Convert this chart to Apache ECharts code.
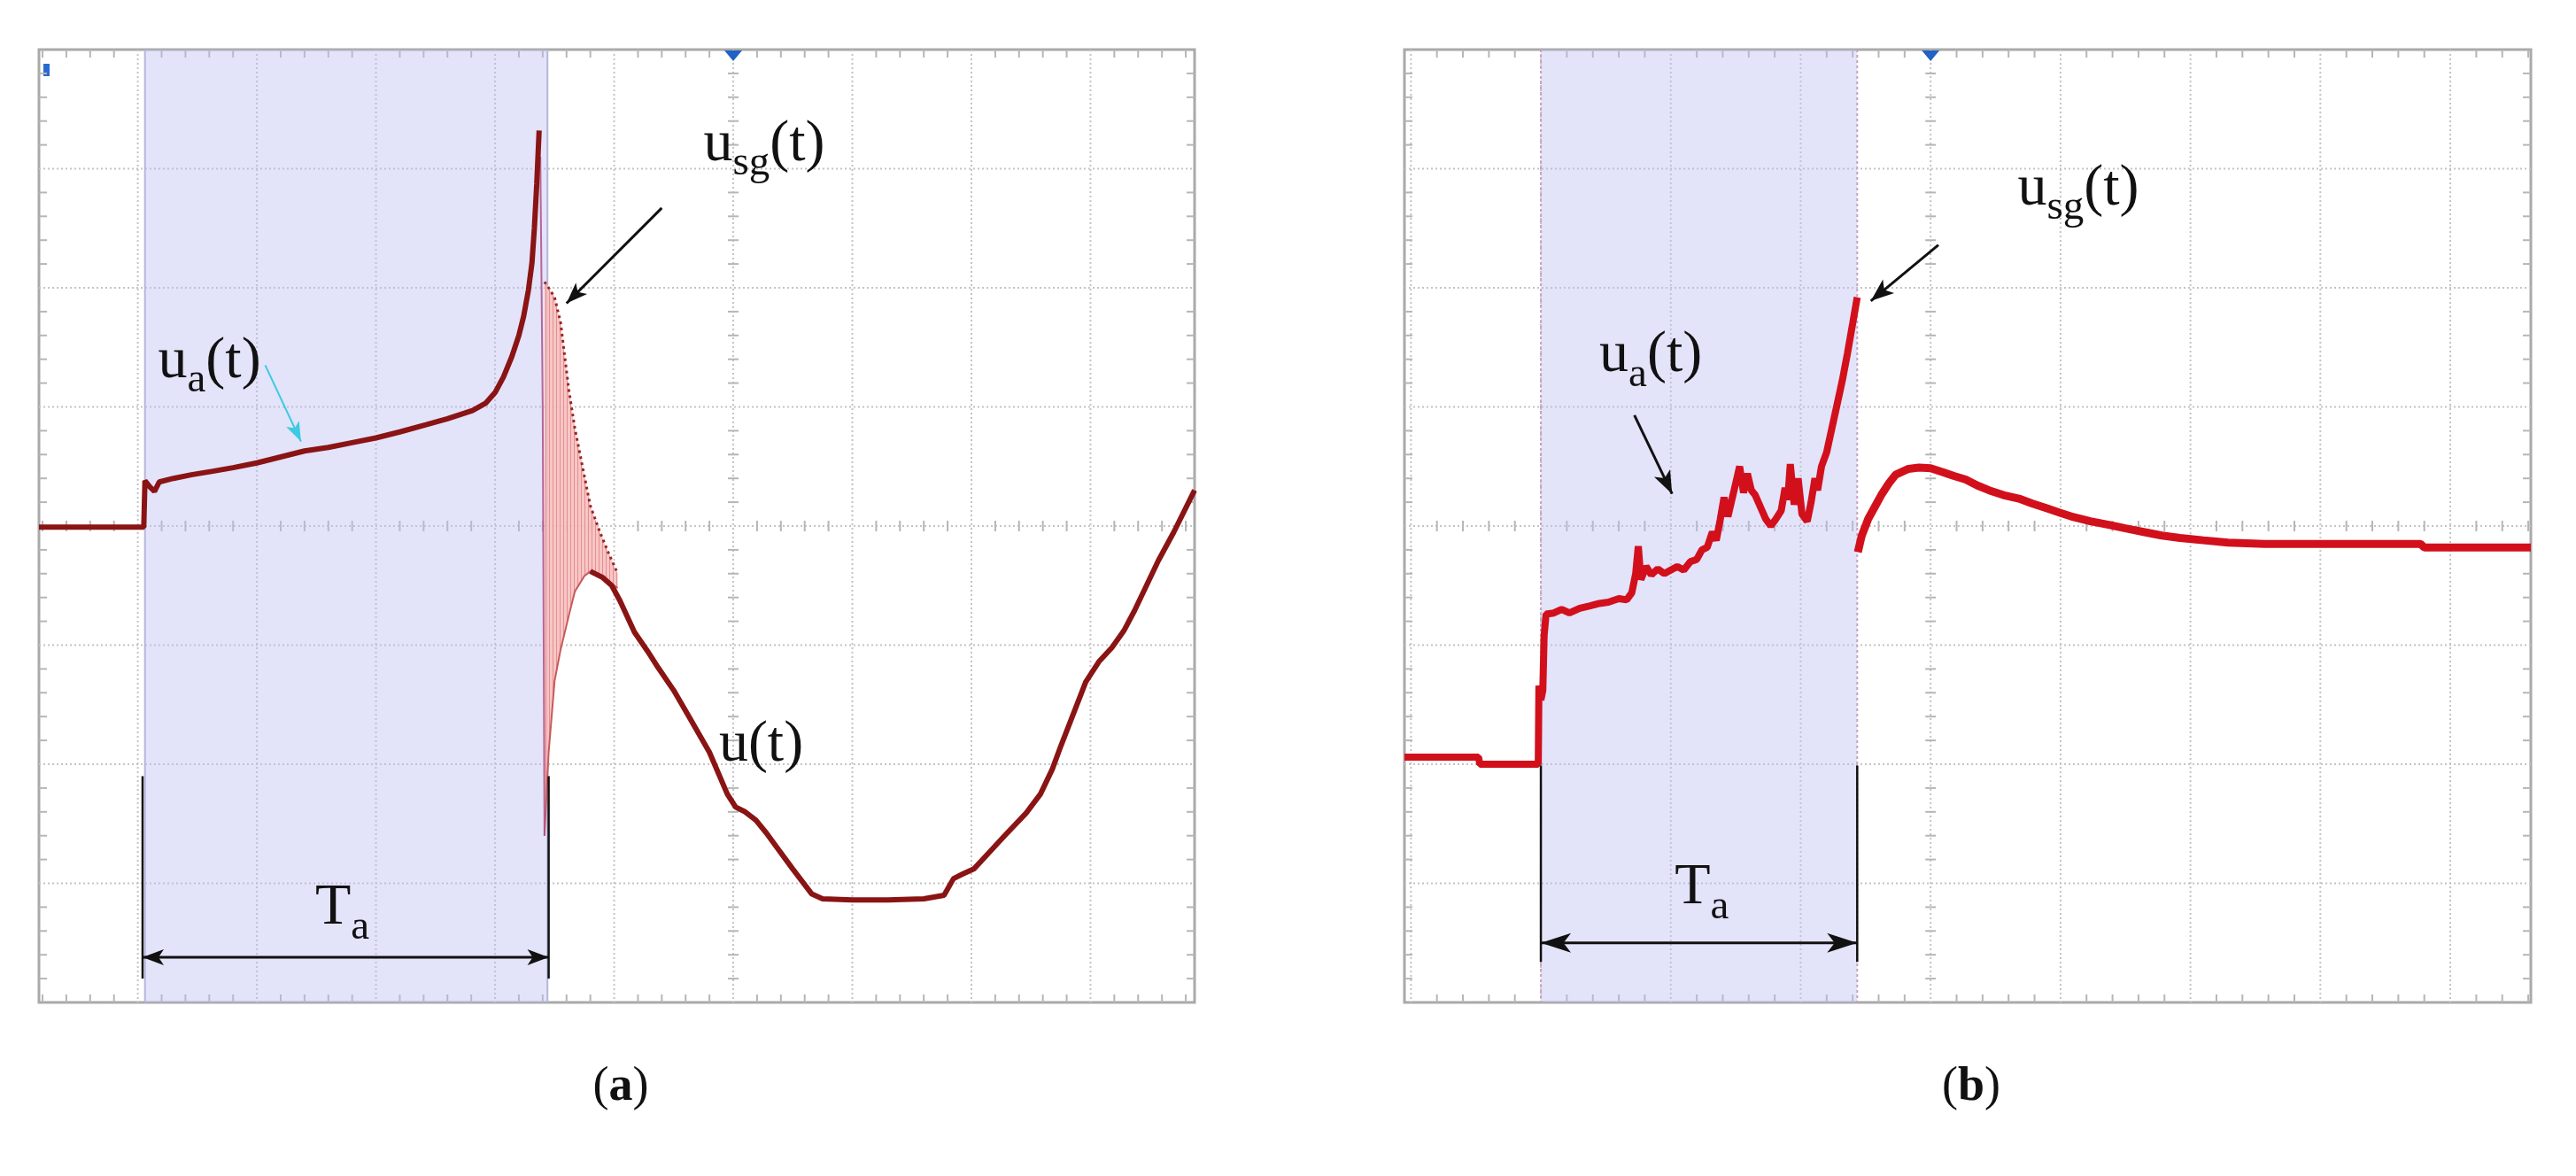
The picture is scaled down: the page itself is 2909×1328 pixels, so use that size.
<!DOCTYPE html>
<html>
<head>
<meta charset="utf-8">
<style>
  html, body { margin: 0; padding: 0; background: #fff; }
  #chart { width: 2909px; height: 1328px; }
</style>
<script src="https://cdn.jsdelivr.net/npm/echarts@6/dist/echarts.min.js"></script>
</head>
<body>
<div id="chart"></div>
<script>
// all positions are in scope divisions, x = 0 on the trigger line, y = 0 on the centre line
const FONT = 'Liberation Serif, Times New Roman, serif';

const gridXA = [-5, -4, -3, -2, -1, 0, 1, 2, 3];
const gridXB = [-4, -3, -2, -1, 0, 1, 2, 3, 4];
const gridY = [-3, -2, -1, 0, 1, 2, 3];

// ---- panel (a) ----
const shadeA = [-4.94, -1.56];
const uaA = [
  [-5.83, -0.01], [-4.95, -0.01], [-4.94, 0.38], [-4.90, 0.33], [-4.86, 0.29], [-4.82, 0.37],
  [-4.70, 0.40], [-4.55, 0.43], [-4.37, 0.46], [-4.20, 0.49], [-4.00, 0.53], [-3.80, 0.58],
  [-3.60, 0.63], [-3.40, 0.66], [-3.20, 0.70], [-3.00, 0.74], [-2.80, 0.79], [-2.58, 0.85],
  [-2.40, 0.90], [-2.19, 0.97], [-2.08, 1.03], [-2.00, 1.12], [-1.93, 1.25], [-1.86, 1.42],
  [-1.80, 1.60], [-1.76, 1.76], [-1.72, 1.98], [-1.69, 2.21], [-1.67, 2.50], [-1.65, 2.87],
  [-1.63, 3.32]
];
const dropA = [[-1.62, 3.10], [-1.60, 1.00], [-1.585, -2.60]];
// decaying ringing after the breakdown, upper and lower envelope
const ringX  = [-1.585, -1.55, -1.50, -1.45, -1.38, -1.33, -1.25, -1.20, -1.12, -1.05, -0.97];
const ringHi = [ 2.05,   2.00,  1.92,  1.71,  1.14,  0.82,  0.42,  0.17, -0.05, -0.22, -0.40];
const ringLo = [-2.60,  -1.90, -1.30, -1.04, -0.75, -0.55, -0.42, -0.38, -0.42, -0.47, -0.52];
const uA = [
  [-1.20, -0.38], [-1.10, -0.43], [-1.02, -0.50], [-0.95, -0.63], [-0.83, -0.89], [-0.72, -1.05],
  [-0.63, -1.19], [-0.50, -1.38], [-0.36, -1.62], [-0.20, -1.90], [-0.05, -2.25], [0.02, -2.36],
  [0.10, -2.40], [0.19, -2.47], [0.28, -2.58], [0.36, -2.69], [0.50, -2.88], [0.66, -3.09],
  [0.75, -3.13], [1.00, -3.14], [1.30, -3.14], [1.60, -3.13], [1.77, -3.10], [1.85, -2.96],
  [1.93, -2.92], [2.02, -2.88], [2.15, -2.74], [2.27, -2.61], [2.46, -2.41], [2.58, -2.25],
  [2.68, -2.04], [2.75, -1.85], [2.82, -1.67], [2.96, -1.31], [3.07, -1.14], [3.18, -1.02],
  [3.28, -0.88], [3.37, -0.71], [3.47, -0.50], [3.57, -0.29], [3.70, -0.05], [3.874, 0.30]
];

// ---- panel (b) ----
const shadeB = [-3.00, -0.565];
const uaB = [
  [-4.05, -1.94], [-3.48, -1.94], [-3.47, -2.00], [-3.02, -2.00], [-3.015, -1.34], [-3.00, -1.46],
  [-2.985, -1.38], [-2.975, -0.92], [-2.96, -0.74], [-2.90, -0.73], [-2.84, -0.70], [-2.78, -0.73],
  [-2.70, -0.69], [-2.62, -0.67], [-2.55, -0.65], [-2.48, -0.64], [-2.40, -0.61], [-2.34, -0.62],
  [-2.30, -0.56], [-2.27, -0.40], [-2.25, -0.17], [-2.23, -0.45], [-2.19, -0.34], [-2.15, -0.41],
  [-2.10, -0.36], [-2.05, -0.40], [-2.00, -0.37], [-1.95, -0.34], [-1.90, -0.37], [-1.85, -0.30],
  [-1.80, -0.28], [-1.76, -0.20], [-1.72, -0.18], [-1.68, -0.05], [-1.65, -0.12], [-1.62, 0.05],
  [-1.59, 0.24], [-1.56, 0.08], [-1.53, 0.22], [-1.50, 0.36], [-1.47, 0.50], [-1.44, 0.28],
  [-1.41, 0.44], [-1.38, 0.30], [-1.35, 0.26], [-1.31, 0.16], [-1.27, 0.06], [-1.23, 0.00],
  [-1.19, 0.06], [-1.15, 0.13], [-1.12, 0.32], [-1.10, 0.22], [-1.08, 0.52], [-1.05, 0.18],
  [-1.02, 0.40], [-0.99, 0.10], [-0.95, 0.04], [-0.92, 0.20], [-0.89, 0.40], [-0.87, 0.30],
  [-0.84, 0.50], [-0.80, 0.62], [-0.76, 0.82], [-0.72, 1.02], [-0.68, 1.22], [-0.64, 1.45],
  [-0.60, 1.70], [-0.565, 1.92]
];
const uB = [
  [-0.56, -0.22], [-0.53, -0.08], [-0.48, 0.06], [-0.43, 0.16], [-0.38, 0.26], [-0.32, 0.36],
  [-0.27, 0.43], [-0.17, 0.48], [-0.09, 0.49], [0.00, 0.485], [0.10, 0.45], [0.18, 0.42],
  [0.27, 0.39], [0.36, 0.34], [0.45, 0.30], [0.56, 0.26], [0.68, 0.23], [0.78, 0.19],
  [0.89, 0.15], [1.00, 0.11], [1.10, 0.075], [1.23, 0.04], [1.37, 0.01], [1.50, -0.02],
  [1.64, -0.05], [1.78, -0.08], [1.92, -0.10], [2.10, -0.12], [2.29, -0.14], [2.57, -0.15],
  [3.00, -0.15], [3.40, -0.15], [3.77, -0.15], [3.80, -0.18], [4.62, -0.18]
];

// annotations
const arrowsA = [
  { from: [-0.60, 2.67], to: [-1.40, 1.87], color: '#111', width: 3, head: [24, 9] },
  { from: [-3.93, 1.35], to: [-3.63, 0.71], color: '#3ccbe0', width: 2, head: [22, 8] },
  { from: [-4.96, -3.62], to: [-1.55, -3.62], color: '#111', width: 3, head: [24, 9], both: true },
  { from: [-4.96, -2.10], to: [-4.96, -3.80], color: '#111', width: 2.5 },
  { from: [-1.55, -2.10], to: [-1.55, -3.80], color: '#111', width: 2.5 }
];
const labelsA = [
  { at: [-0.25, 3.20], text: '{m|u}{s|sg}{m|(t)}' },
  { at: [-4.83, 1.38], text: '{m|u}{s|a}{m|(t)}' },
  { at: [-0.12, -1.84], text: '{m|u(t)}' },
  { at: [-3.51, -3.21], text: '{m|T}{s|a}' }
];
const arrowsB = [
  { from: [0.06, 2.36], to: [-0.46, 1.89], color: '#111', width: 3, head: [26, 10] },
  { from: [-2.28, 0.93], to: [-1.99, 0.27], color: '#111', width: 3, head: [26, 10] },
  { from: [-3.00, -3.50], to: [-0.565, -3.50], color: '#111', width: 3, head: [34, 11], both: true },
  { from: [-3.00, -2.01], to: [-3.00, -3.66], color: '#111', width: 2.5 },
  { from: [-0.565, -2.01], to: [-0.565, -3.66], color: '#111', width: 2.5 }
];
const labelsB = [
  { at: [0.67, 2.83], text: '{m|u}{s|sg}{m|(t)}' },
  { at: [-2.55, 1.43], text: '{m|u}{s|a}{m|(t)}' },
  { at: [-1.97, -3.04], text: '{m|T}{s|a}' }
];

// main glyphs sit on top of the line box, subscripts on its bottom
const labelRich = {
  m: { fontFamily: FONT, fontSize: 66, lineHeight: 66, verticalAlign: 'top', fill: '#111' },
  s: { fontFamily: FONT, fontSize: 47, lineHeight: 78, verticalAlign: 'bottom', fill: '#111' }
};

function graticule(xs, ys, xr) {
  return function (params, api) {
    const cs = params.coordSys;
    const x0 = cs.x, y0 = cs.y, x1 = cs.x + cs.width, y1 = cs.y + cs.height;
    const c = api.coord([0, 0]);
    const dotted = { stroke: '#c4c4c4', lineWidth: 2, lineDash: [2, 3] };
    const tick = { stroke: '#b6b6b6', lineWidth: 2 };
    const items = [];
    xs.forEach(function (v) {
      const px = api.coord([v, 0])[0];
      items.push({ type: 'line', shape: { x1: px, y1: y0, x2: px, y2: y1 }, style: dotted });
    });
    ys.forEach(function (v) {
      const py = api.coord([0, v])[1];
      items.push({ type: 'line', shape: { x1: x0, y1: py, x2: x1, y2: py }, style: dotted });
    });
    for (let k = Math.ceil(xr[0] * 5); k <= Math.floor(xr[1] * 5); k++) {
      if (k % 5 === 0) continue;
      const px = api.coord([k / 5, 0])[0];
      items.push({ type: 'line', shape: { x1: px, y1: c[1] - 6, x2: px, y2: c[1] + 6 }, style: tick });
      items.push({ type: 'line', shape: { x1: px, y1: y0, x2: px, y2: y0 + 9 }, style: tick });
      items.push({ type: 'line', shape: { x1: px, y1: y1 - 9, x2: px, y2: y1 }, style: tick });
    }
    for (let k = -19; k <= 19; k++) {
      if (k % 5 === 0) continue;
      const py = api.coord([0, k / 5])[1];
      items.push({ type: 'line', shape: { x1: c[0] - 6, y1: py, x2: c[0] + 6, y2: py }, style: tick });
      items.push({ type: 'line', shape: { x1: x0, y1: py, x2: x0 + 9, y2: py }, style: tick });
      items.push({ type: 'line', shape: { x1: x1 - 9, y1: py, x2: x1, y2: py }, style: tick });
    }
    // trigger marker
    items.push({ type: 'polygon', shape: { points: [[c[0] - 10, y0 + 1], [c[0] + 10, y0 + 1], [c[0], y0 + 13]] },
      style: { fill: '#2262c4' } });
    return { type: 'group', children: items, silent: true };
  };
}

function shade(range, dashed) {
  return function (params, api) {
    const cs = params.coordSys;
    const a = api.coord([range[0], 0])[0], b = api.coord([range[1], 0])[0];
    const edge = dashed
      ? { stroke: '#c7a3c0', lineWidth: 2, lineDash: [3, 3] }
      : { stroke: '#b7b7dc', lineWidth: 2 };
    return { type: 'group', silent: true, children: [
      { type: 'rect', shape: { x: a, y: cs.y, width: b - a, height: cs.height },
        style: { fill: 'rgba(188,188,242,0.42)' } },
      { type: 'line', shape: { x1: a, y1: cs.y, x2: a, y2: cs.y + cs.height }, style: edge },
      { type: 'line', shape: { x1: b, y1: cs.y, x2: b, y2: cs.y + cs.height }, style: edge }
    ] };
  };
}

// vertical hatching of the ringing band
const hatchCanvas = document.createElement('canvas');
hatchCanvas.width = 4; hatchCanvas.height = 4;
const hctx = hatchCanvas.getContext('2d');
hctx.fillStyle = 'rgba(246,192,192,0.9)';
hctx.fillRect(0, 0, 4, 4);
hctx.fillStyle = 'rgba(226,128,128,0.8)';
hctx.fillRect(0, 0, 1, 4);

function ringBand(params, api) {
  const hi = ringX.map(function (x, i) { return api.coord([x, ringHi[i]]); });
  const lo = ringX.map(function (x, i) { return api.coord([x, ringLo[i]]); });
  return { type: 'group', silent: true, children: [
    { type: 'polygon', shape: { points: hi.concat(lo.slice().reverse()) },
      style: { fill: { image: hatchCanvas, repeat: 'repeat' } } },
    { type: 'polyline', shape: { points: hi }, style: { stroke: '#9a2525', lineWidth: 3, lineDash: [3, 4], fill: null } },
    { type: 'polyline', shape: { points: lo }, style: { stroke: '#c85a5a', lineWidth: 2, fill: null } }
  ] };
}

function arrowHead(tip, u, len, half) {
  const n = [-u[1], u[0]];
  return [
    tip,
    [tip[0] - u[0] * len + n[0] * half, tip[1] - u[1] * len + n[1] * half],
    [tip[0] - u[0] * len * 0.75, tip[1] - u[1] * len * 0.75],
    [tip[0] - u[0] * len - n[0] * half, tip[1] - u[1] * len - n[1] * half]
  ];
}

function arrows(list) {
  return function (params, api) {
    const d = list[params.dataIndex];
    const p1 = api.coord(d.from), p2 = api.coord(d.to);
    const len = Math.hypot(p2[0] - p1[0], p2[1] - p1[1]);
    const u = [(p2[0] - p1[0]) / len, (p2[1] - p1[1]) / len];
    const children = [{ type: 'line', shape: { x1: p1[0], y1: p1[1], x2: p2[0], y2: p2[1] },
      style: { stroke: d.color, lineWidth: d.width } }];
    if (d.head) {
      children.push({ type: 'polygon', shape: { points: arrowHead(p2, u, d.head[0], d.head[1]) }, style: { fill: d.color } });
      if (d.both) {
        children.push({ type: 'polygon', shape: { points: arrowHead(p1, [-u[0], -u[1]], d.head[0], d.head[1]) }, style: { fill: d.color } });
      }
    }
    return { type: 'group', silent: true, children: children };
  };
}

function labels(list) {
  return function (params, api) {
    const d = list[params.dataIndex];
    const p = api.coord(d.at);
    return { type: 'text', silent: true, x: p[0], y: p[1] - 33,
      style: { text: d.text, rich: labelRich, align: 'left', verticalAlign: 'top', fill: '#111' } };
  };
}

function onePoint() { return [[0, 0]]; }

const captionRich = {
  n: { fontFamily: FONT, fontSize: 54, fontWeight: 'normal', color: '#111' },
  b: { fontFamily: FONT, fontSize: 54, fontWeight: 'bold', color: '#111' }
};

const option = {
  backgroundColor: '#fff',
  animation: false,
  title: [
    { text: '{n|(}{b|a}{n|)}', left: 696, top: 1196, textAlign: 'center', textStyle: { fontWeight: 'normal', rich: captionRich } },
    { text: '{n|(}{b|b}{n|)}', left: 2221, top: 1196, textAlign: 'center', textStyle: { fontWeight: 'normal', rich: captionRich } }
  ],
  grid: [
    { left: 44, top: 56, width: 1305, height: 1076, show: true, borderColor: '#a9a9a9', borderWidth: 3, backgroundColor: 'transparent' },
    { left: 1586, top: 56, width: 1272, height: 1076, show: true, borderColor: '#a9a9a9', borderWidth: 3, backgroundColor: 'transparent' }
  ],
  xAxis: [
    { type: 'value', gridIndex: 0, min: -5.83, max: 3.874, show: false },
    { type: 'value', gridIndex: 1, min: -4.05, max: 4.62, show: false }
  ],
  yAxis: [
    { type: 'value', gridIndex: 0, min: -4, max: 4, show: false },
    { type: 'value', gridIndex: 1, min: -4, max: 4, show: false }
  ],
  graphic: [
    { type: 'rect', left: 49, top: 72, shape: { width: 7, height: 14 }, style: { fill: '#2a6ad0' } }
  ],
  series: [
    // panel (a)
    { type: 'custom', xAxisIndex: 0, yAxisIndex: 0, z: 1, data: onePoint(), renderItem: graticule(gridXA, gridY, [-5.83, 3.874]) },
    { type: 'custom', xAxisIndex: 0, yAxisIndex: 0, z: 2, data: onePoint(), renderItem: shade(shadeA, false) },
    { type: 'line', xAxisIndex: 0, yAxisIndex: 0, z: 3, data: dropA, symbol: 'none', lineStyle: { color: 'rgba(176,80,130,0.85)', width: 2 } },
    { type: 'custom', xAxisIndex: 0, yAxisIndex: 0, z: 3, data: onePoint(), renderItem: ringBand },
    { type: 'line', xAxisIndex: 0, yAxisIndex: 0, z: 4, data: uaA, symbol: 'none', lineStyle: { color: '#8a1414', width: 6 } },
    { type: 'line', xAxisIndex: 0, yAxisIndex: 0, z: 4, data: uA, symbol: 'none', lineStyle: { color: '#8a1414', width: 6 } },
    { type: 'custom', xAxisIndex: 0, yAxisIndex: 0, z: 5, data: arrowsA.map(function (a, i) { return [i]; }), renderItem: arrows(arrowsA) },
    { type: 'custom', xAxisIndex: 0, yAxisIndex: 0, z: 5, data: labelsA.map(function (a, i) { return [i]; }), renderItem: labels(labelsA) },
    // panel (b)
    { type: 'custom', xAxisIndex: 1, yAxisIndex: 1, z: 1, data: onePoint(), renderItem: graticule(gridXB, gridY, [-4.05, 4.62]) },
    { type: 'custom', xAxisIndex: 1, yAxisIndex: 1, z: 2, data: onePoint(), renderItem: shade(shadeB, true) },
    { type: 'line', xAxisIndex: 1, yAxisIndex: 1, z: 4, data: uaB, symbol: 'none', lineStyle: { color: '#d2101c', width: 8 } },
    { type: 'line', xAxisIndex: 1, yAxisIndex: 1, z: 4, data: uB, symbol: 'none', lineStyle: { color: '#d2101c', width: 9 } },
    { type: 'custom', xAxisIndex: 1, yAxisIndex: 1, z: 5, data: arrowsB.map(function (a, i) { return [i]; }), renderItem: arrows(arrowsB) },
    { type: 'custom', xAxisIndex: 1, yAxisIndex: 1, z: 5, data: labelsB.map(function (a, i) { return [i]; }), renderItem: labels(labelsB) }
  ]
};

const chart = echarts.init(document.getElementById('chart'));
chart.setOption(option);
</script>
</body>
</html>
